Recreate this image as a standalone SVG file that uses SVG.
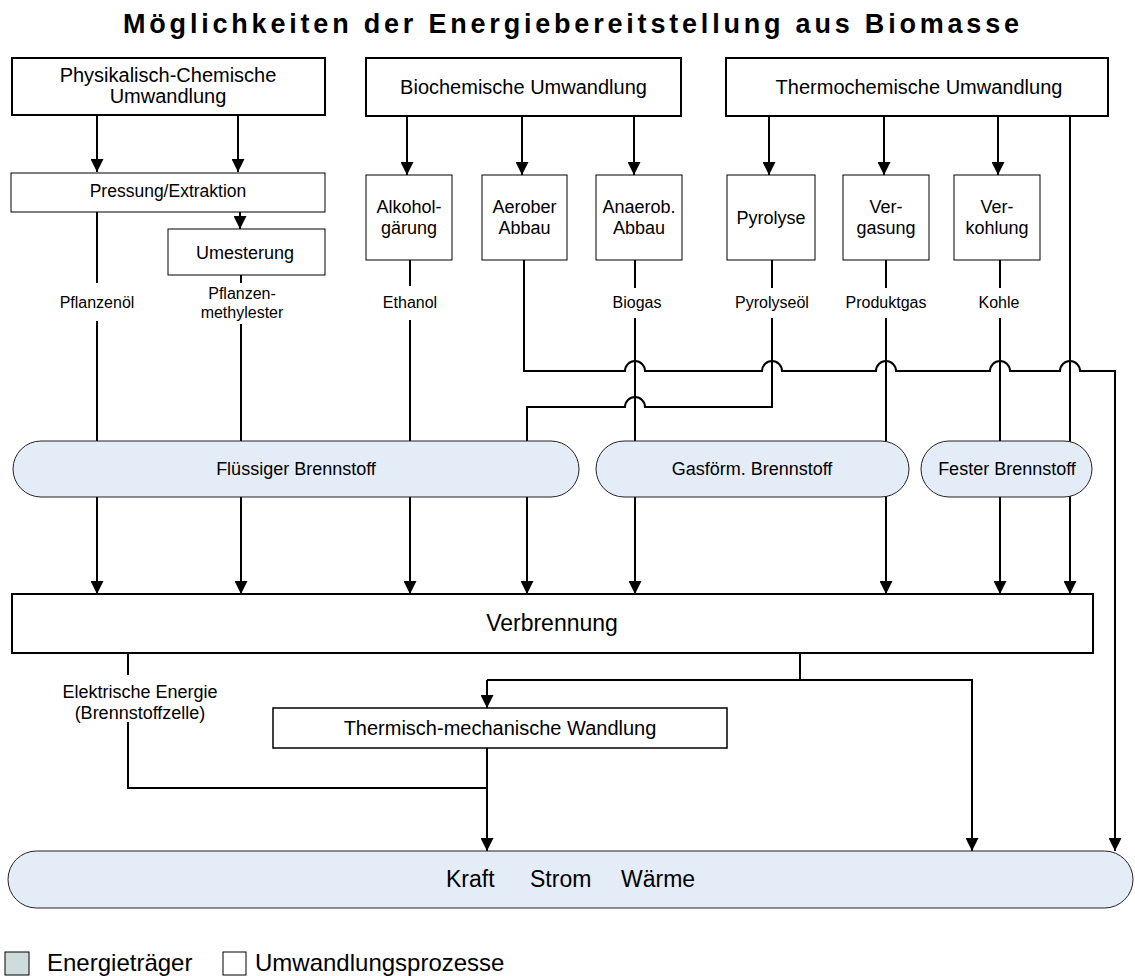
<svg xmlns="http://www.w3.org/2000/svg" width="1135" height="976" viewBox="0 0 1135 976">
<style>
text{font-family:"Liberation Sans",Arial,sans-serif;fill:#000}
.title{font-size:27px;font-weight:bold;letter-spacing:3.8px}
.pbox{fill:#fff;stroke:#000;stroke-width:2}
.sbox{fill:#fff;stroke:#000;stroke-width:1}
.carrier{fill:#e4ecf7;stroke:#222;stroke-width:1}
.c{fill:none;stroke:#000;stroke-width:2}
.t20{font-size:20px;text-anchor:middle}
.t18{font-size:18px;text-anchor:middle}
.t17{font-size:17.5px;text-anchor:middle}
.t16{font-size:16px;text-anchor:middle}
</style>
<defs>
<marker id="ah" markerUnits="userSpaceOnUse" markerWidth="13" markerHeight="13" refX="13" refY="6.5" orient="auto">
<path d="M0,0 L13,6.5 L0,13 z" fill="#000"/>
</marker>
</defs>

<text class="title" x="123" y="33">Möglichkeiten der Energiebereitstellung aus Biomasse</text>

<g id="connectors">
<path class="c" d="M97,115 V172" marker-end="url(#ah)"/>
<path class="c" d="M238,115 V172" marker-end="url(#ah)"/>
<path class="c" d="M240,212 V229" marker-end="url(#ah)"/>
<path class="c" d="M407,116 V175" marker-end="url(#ah)"/>
<path class="c" d="M522,116 V175" marker-end="url(#ah)"/>
<path class="c" d="M634,116 V175" marker-end="url(#ah)"/>
<path class="c" d="M769,116 V175" marker-end="url(#ah)"/>
<path class="c" d="M884,116 V175" marker-end="url(#ah)"/>
<path class="c" d="M998,116 V175" marker-end="url(#ah)"/>
<path class="c" d="M97,212 V283"/>
<path class="c" d="M241,275 V283"/>
<path class="c" d="M410,260 V286"/>
<path class="c" d="M635,260 V288"/>
<path class="c" d="M772,260 V288"/>
<path class="c" d="M886,260 V288"/>
<path class="c" d="M1000,260 V288"/>
<path class="c" d="M97,321 V594" marker-end="url(#ah)"/>
<path class="c" d="M241,324 V594" marker-end="url(#ah)"/>
<path class="c" d="M410,320 V594" marker-end="url(#ah)"/>
<path class="c" d="M635,318 V594" marker-end="url(#ah)"/>
<path class="c" d="M886,318 V594" marker-end="url(#ah)"/>
<path class="c" d="M1000,318 V594" marker-end="url(#ah)"/>
<path class="c" d="M1070,116 V594" marker-end="url(#ah)"/>
<path class="c" d="M772,318 V407 H645 A10,10 0 0 0 625,407 H527 V594" marker-end="url(#ah)"/>
<path class="c" d="M524,260 V371 H625 A10,10 0 0 1 645,371 H762 A10,10 0 0 1 782,371 H876 A10,10 0 0 1 896,371 H990 A10,10 0 0 1 1010,371 H1060 A10,10 0 0 1 1080,371 H1115 V851" marker-end="url(#ah)"/>
<path class="c" d="M800,654 V680"/>
<path class="c" d="M487,680 H972 V851" marker-end="url(#ah)"/>
<path class="c" d="M487,680 V708" marker-end="url(#ah)"/>
<path class="c" d="M487,748 V851" marker-end="url(#ah)"/>
<path class="c" d="M128,654 V675"/>
<path class="c" d="M128,722 V788 H487"/>
</g>

<g id="labels">
<text class="t16" x="97" y="308">Pflanzenöl</text>
<text class="t16" x="242" y="299">Pflanzen-</text>
<text class="t16" x="242" y="318">methylester</text>
<text class="t16" x="410" y="308">Ethanol</text>
<text class="t16" x="637" y="308">Biogas</text>
<text class="t16" x="772" y="308">Pyrolyseöl</text>
<text class="t16" x="886" y="308">Produktgas</text>
<text class="t16" x="999" y="308">Kohle</text>
<text class="t18" x="140" y="698">Elektrische Energie</text>
<text class="t18" x="140" y="719">(Brennstoffzelle)</text>
</g>

<g id="physchem">
<rect class="pbox" x="12" y="58" width="313" height="57"/>
<text class="t20" x="168" y="82">Physikalisch-Chemische</text>
<text class="t20" x="168" y="103">Umwandlung</text>
</g>
<g id="biochem">
<rect class="pbox" x="366" y="58" width="315" height="58"/>
<text class="t20" x="523.5" y="94">Biochemische Umwandlung</text>
</g>
<g id="thermochem">
<rect class="pbox" x="726" y="58" width="382" height="58"/>
<text class="t20" x="919" y="94">Thermochemische Umwandlung</text>
</g>

<g id="pressung">
<rect class="sbox" x="11" y="173" width="314" height="39"/>
<text class="t17" x="168" y="197">Pressung/Extraktion</text>
</g>
<g id="umesterung">
<rect class="sbox" x="168" y="229" width="157" height="46"/>
<text x="245" y="259" style="font-size:18px;text-anchor:middle">Umesterung</text>
</g>
<g id="alkohol">
<rect class="sbox" x="366" y="175" width="86" height="85"/>
<text class="t18" x="409" y="213">Alkohol-</text>
<text class="t18" x="409" y="234">gärung</text>
</g>
<g id="aerob">
<rect class="sbox" x="482" y="175" width="85" height="85"/>
<text class="t18" x="524.5" y="213">Aerober</text>
<text class="t18" x="524.5" y="234">Abbau</text>
</g>
<g id="anaerob">
<rect class="sbox" x="596" y="175" width="86" height="85"/>
<text class="t18" x="639" y="213">Anaerob.</text>
<text class="t18" x="639" y="234">Abbau</text>
</g>
<g id="pyrolyse">
<rect class="sbox" x="727" y="175" width="88" height="85"/>
<text class="t18" x="771" y="224">Pyrolyse</text>
</g>
<g id="vergasung">
<rect class="sbox" x="843" y="175" width="86" height="85"/>
<text class="t18" x="886" y="213">Ver-</text>
<text class="t18" x="886" y="234">gasung</text>
</g>
<g id="verkohlung">
<rect class="sbox" x="954" y="175" width="86" height="85"/>
<text class="t18" x="997" y="213">Ver-</text>
<text class="t18" x="997" y="234">kohlung</text>
</g>

<g id="fluessig">
<rect class="carrier" x="13" y="441" width="566" height="56" rx="28" ry="28"/>
<text class="t18" x="296" y="475">Flüssiger Brennstoff</text>
</g>
<g id="gasfoerm">
<rect class="carrier" x="596" y="441" width="313" height="56" rx="28" ry="28"/>
<text class="t18" x="752" y="475">Gasförm. Brennstoff</text>
</g>
<g id="fest">
<rect class="carrier" x="921" y="441" width="171" height="56" rx="28" ry="28"/>
<text class="t18" x="1007" y="475">Fester Brennstoff</text>
</g>

<g id="verbrennung">
<rect class="pbox" x="12" y="594" width="1081" height="59"/>
<text x="552" y="631" style="font-size:23px;text-anchor:middle">Verbrennung</text>
</g>

<g id="thermmech">
<rect class="sbox" x="273" y="708" width="454" height="40" style="stroke-width:1.5"/>
<text class="t20" x="500" y="735">Thermisch-mechanische Wandlung</text>
</g>

<g id="kraft">
<rect class="carrier" x="8" y="851" width="1125" height="57" rx="28.5" ry="28.5"/>
<text x="446" y="887" style="font-size:23px"><tspan x="446">Kraft</tspan><tspan x="530">Strom</tspan><tspan x="621">Wärme</tspan></text>
</g>

<g id="legend">
<rect x="5" y="952" width="24" height="23" fill="#cfdcdc" stroke="#000" stroke-width="1"/>
<text x="47" y="971" style="font-size:24px">Energieträger</text>
<rect x="223" y="952" width="23" height="23" fill="#fff" stroke="#000" stroke-width="1"/>
<text x="255" y="971" style="font-size:24px">Umwandlungsprozesse</text>
</g>
</svg>
